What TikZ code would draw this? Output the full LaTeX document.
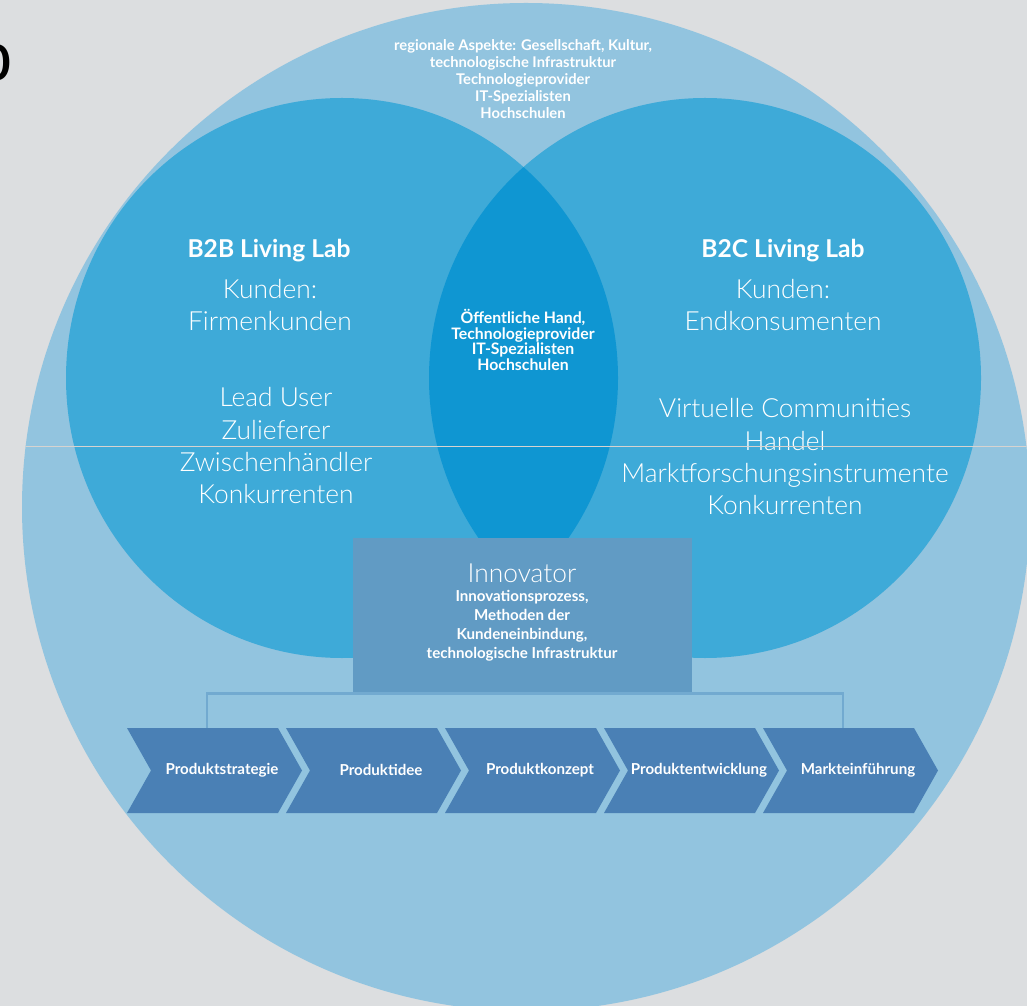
\documentclass[tikz,border=0pt]{standalone}
\usepackage{fontspec}
\setmainfont{Lato}
\newfontfamily\thinfont{Lato}[UprightFont={* Light}]
\usetikzlibrary{calc}

\definecolor{bggray}{HTML}{DCDEE0}
\definecolor{outerblue}{HTML}{92C4DF}
\definecolor{labblue}{HTML}{3EAAD8}
\definecolor{lensblue}{HTML}{0F96D2}
\definecolor{boxblue}{HTML}{619BC4}
\definecolor{stepblue}{HTML}{4A80B5}
\definecolor{bracketblue}{HTML}{72AAD0}
\definecolor{scanline}{HTML}{D7D3D0}

\tikzset{
  tiny bold/.style={text=white, font=\fontsize{8.6}{9.6}\selectfont\bfseries, align=center, inner sep=0pt},
  lab title/.style={text=white, font=\fontsize{14}{18}\selectfont\bfseries, inner sep=0pt},
  lab text/.style={text=white, font=\thinfont\fontsize{15}{18.4}\selectfont, align=center, inner sep=0pt},
  bracket/.style={draw=bracketblue, line width=1.4pt},
}

\begin{document}
\begin{tikzpicture}[x=0.02cm, y=-0.02cm]
      \useasboundingbox (0,0) rectangle (1027,1006);
      \fill[bggray] (0,0) rectangle (1027,1006);
      \node [font=\fontsize{28}{28}\selectfont\bfseries, anchor=east, inner sep=0pt] (mark) at (11,63) {0};
      % circles
      \coordinate (world) at (526,507);
      \coordinate (b2b) at (342,378);
      \coordinate (b2c) at (705,378);
      \fill[outerblue] (world) circle [radius=504];
      \fill[labblue] (b2b) ellipse [x radius=276, y radius=280];
      \fill[labblue] (b2c) ellipse [x radius=276, y radius=280];
      \begin{scope}
        \clip (b2b) ellipse [x radius=276, y radius=280];
        \fill[lensblue] (b2c) ellipse [x radius=276, y radius=280];
      \end{scope}
      \node [tiny bold, font=\fontsize{8.4}{9.6}\selectfont\bfseries] (region) at (523,79)
        {regionale Aspekte: Gesellschaft, Kultur,\\technologische Infrastruktur\\Technologieprovider\\IT-Spezialisten\\Hochschulen};
      \node [tiny bold, font=\fontsize{9}{8.9}\selectfont\bfseries] (public) at (523,340)
        {Öffentliche Hand,\\Technologieprovider\\IT-Spezialisten\\Hochschulen};
      % B2B
      \node [lab title] (b2btitle) at (269,251) {B2B Living Lab};
      \node [lab text] (b2bcust) at (270,305) {Kunden:\\Firmenkunden};
      \node [lab text] (b2bpart) at (276,446) {Lead User\\Zulieferer\\Zwischenhändler\\Konkurrenten};
      % B2C
      \node [lab title] (b2ctitle) at (783,251) {B2C Living Lab};
      \node [lab text] (b2ccust) at (783,305) {Kunden:\\Endkonsumenten};
      \node [lab text] (b2cpart) at (785,457) {Virtuelle Communities\\Handel\\Marktforschungsinstrumente\\Konkurrenten};
      % innovator
      \node [fill=boxblue, minimum width=6.78cm, minimum height=3.1cm, inner sep=0pt] (box) at (522.5,615.5) {};
      \node [text=white, font=\thinfont\fontsize{15}{15}\selectfont, inner sep=0pt] (inno) at (522,573) {Innovator};
      \node [tiny bold, font=\fontsize{8.6}{10.8}\selectfont\bfseries] (innotext) at (522,626)
        {Innovationsprozess,\\Methoden der\\Kundeneinbindung,\\technologische Infrastruktur};
      % process
      \foreach \name [count=\i] in {Produktstrategie, Produktidee, Produktkonzept, Produktentwicklung, Markteinführung} {
        \pgfmathsetmacro\xa{127+159*(\i-1)}
        \fill[stepblue] (\xa,728) -- ++(151,0) -- ++(24,42.5) -- ++(-24,42.5) -- ++(-151,0) -- ++(24,-42.5) -- cycle;
        \node [tiny bold] (p\i) at (\xa+95,770) {\name};
        \coordinate (c\i) at (\xa+80,728);
      }
      \draw[bracket] (c1) |- (box.south) -| (c5);
      \draw[scanline, line width=0.5pt] (26,446) -- (1026,446);
      \end{tikzpicture}
\end{document}
